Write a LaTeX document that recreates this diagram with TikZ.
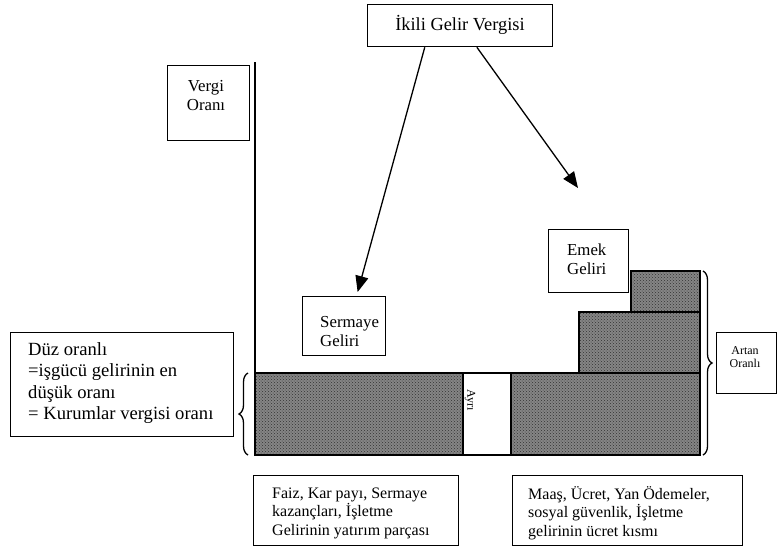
\documentclass[tikz,border=0pt]{standalone}
\usepackage{fontspec}
\setmainfont{Liberation Serif}
\usetikzlibrary{arrows.meta,decorations.pathreplacing,patterns,calc}
\begin{document}
\begin{tikzpicture}[x=1pt,y=-1pt,
  boxframe/.style={draw, line width=1.3pt, inner sep=0pt, anchor=north west},
  txt/.style={inner sep=0pt, text=black},
  barfill/.style={fill=black!48},
  bardots/.style={pattern=crosshatch dots, pattern color=black!80},
  arr/.style={line width=1.3pt, -{Triangle[length=16pt,width=13pt]}},
  brc/.style={draw, line width=1.3pt, decorate, decoration={brace, amplitude=9pt}},
  f19/.style={font=\fontsize{18.6}{21.5}\selectfont},
  f18/.style={font=\fontsize{18.4}{20}\selectfont},
  f17/.style={font=\fontsize{16.8}{19}\selectfont},
  f16/.style={font=\fontsize{16}{18.5}\selectfont},
  f12/.style={font=\fontsize{12}{13.5}\selectfont},
  f11/.style={font=\fontsize{12}{12}\selectfont}
]
\useasboundingbox (0,0) rectangle (777,558);
\fill[white] (0,0) rectangle (777,558);

% boxes
\node[boxframe, minimum width=185pt, minimum height=42pt] (title) at (367,4) {};
\node[txt, f18] (titletxt) at (460,25) {İkili Gelir Vergisi};

\node[boxframe, minimum width=82pt, minimum height=75pt] (vbox) at (167,65) {};
\node[txt, f17, align=center] (vtxt) at (206,96) {Vergi\\Oranı};

\node[boxframe, minimum width=83pt, minimum height=59pt] (serm) at (302,296) {};
\node[txt, f17, align=left, anchor=west] (sermtxt) at (320,332) {Sermaye\\Geliri};

\node[boxframe, minimum width=80pt, minimum height=63pt] (emek) at (548,229) {};
\node[txt, f17, align=left, anchor=west] (emektxt) at (567,259) {Emek\\Geliri};

\node[boxframe, minimum width=60pt, minimum height=61pt] (artan) at (716,332) {};
\node[txt, f12, align=center] (artantxt) at (745,357) {Artan\\Oranlı};

\node[boxframe, minimum width=223pt, minimum height=104pt] (duz) at (10,332) {};
\node[txt, f19, align=left, anchor=west] (duztxt) at (28,383) {Düz oranlı\\=işgücü gelirinin en\\düşük oranı\\= Kurumlar vergisi oranı};

\node[boxframe, minimum width=205pt, minimum height=70pt] (faiz) at (253,475) {};
\node[txt, f16, align=left, anchor=west] (faiztxt) at (272,513) {Faiz, Kar payı, Sermaye\\kazançları, İşletme\\Gelirinin yatırım parçası};

\node[boxframe, minimum width=230pt, minimum height=70pt] (maas) at (512,475) {};
\node[txt, f16, align=left, anchor=west] (maastxt) at (528,513) {Maaş, Ücret, Yan Ödemeler,\\sosyal güvenlik, İşletme\\gelirinin ücret kısmı};

% vertical axis
\coordinate (axtop) at (255,62);
\coordinate (axbot) at (255,455);
\draw[line width=1.3pt] (axtop) -- (axbot);

% bars
\path[barfill] (255,373) rectangle (463,455);
\path[bardots] (255,373) rectangle (463,455);
\path[barfill] (511,373) rectangle (700,455);
\path[bardots] (511,373) rectangle (700,455);
\path[barfill] (579,312) rectangle (700,373);
\path[bardots] (579,312) rectangle (700,373);
\path[barfill] (631,271) rectangle (700,312);
\path[bardots] (631,271) rectangle (700,312);
\draw[line width=1.4pt] (255,373) rectangle (463,455);
\draw[line width=1.4pt] (463,373) rectangle (511,455);
\draw[line width=1.4pt] (511,373) rectangle (700,455);
\draw[line width=1.4pt] (579,312) rectangle (700,373);
\draw[line width=1.4pt] (631,271) rectangle (700,312);
\node[txt, f11, rotate=-90] (ayri) at (470,400) {Ayrı};

% braces
\coordinate (lb1) at (248,455);
\coordinate (lb2) at (248,373);
\draw[brc] (lb1) -- (lb2);
\coordinate (rb1) at (703,271);
\coordinate (rb2) at (703,455);
\draw[brc] (rb1) -- (rb2);

% arrows
\coordinate (emekarrow) at (578,188);
\draw[arr] ($(title.south west)!0.31!(title.south east)$) -- ($(serm.north west)!0.66!(serm.north east)+(0,-4)$);
\draw[arr] ($(title.south west)!0.59!(title.south east)$) -- (emekarrow);
\end{tikzpicture}
\end{document}
